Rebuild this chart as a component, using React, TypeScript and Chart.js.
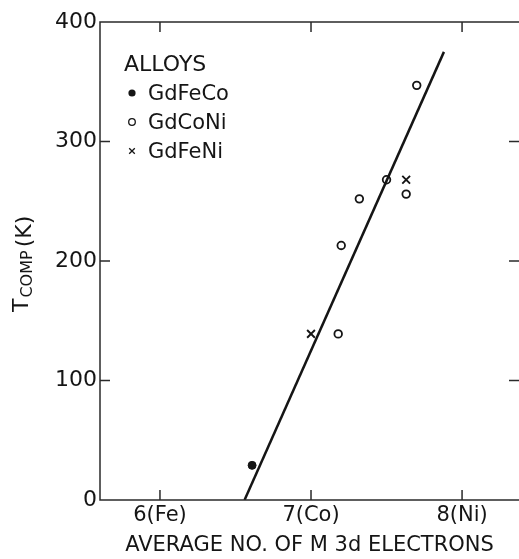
import React, { useEffect, useRef } from "react";
import { Chart, registerables } from "chart.js";

Chart.register(...registerables);

// ---- data ----
const gdFeCoX = [6.61];
const gdFeCoY = [29];
const gdCoNiX = [7.18, 7.2, 7.32, 7.5, 7.63, 7.7];
const gdCoNiY = [139, 213, 252, 268, 256, 347];
const gdFeNiX = [7.0, 7.63];
const gdFeNiY = [139, 268];
const fitX = [6.56, 7.88];
const fitY = [0, 375];
const seriesLabels = ["GdFeCo", "GdCoNi", "GdFeNi"];
const legendTitle = "ALLOYS";
const xTickValues = [6, 7, 8];
const xTickLabels = ["6(Fe)", "7(Co)", "8(Ni)"];
const yTickValues = [0, 100, 200, 300, 400];
const xMin = 5.603;
const xMax = 8.377;
const yMin = 0;
const yMax = 400;
const xTitle = "AVERAGE NO. OF M 3d ELECTRONS";
const yTitleMain = "T";
const yTitleSub = "COMP";
const yTitleUnit = "(K)";

const FONT = "'DejaVu Sans', sans-serif";
const INK = "#151515";

const pts = (xs: number[], ys: number[]) => xs.map((x, i) => ({ x, y: ys[i] }));

const framePlugin = {
  id: "frame",
  afterDatasetsDraw(chart: any) {
    const { ctx, chartArea } = chart;
    const { left, right, top, bottom } = chartArea;
    const xs = chart.scales.x;
    const ys = chart.scales.y;
    ctx.save();
    ctx.strokeStyle = "#2a2a2a";
    ctx.lineWidth = 1.5;
    ctx.beginPath();
    ctx.moveTo(right, top);
    ctx.lineTo(left, top);
    ctx.lineTo(left, bottom);
    ctx.lineTo(right, bottom);
    ctx.stroke();
    const tl = 10;
    ctx.beginPath();
    xTickValues.forEach((v) => {
      const px = xs.getPixelForValue(v);
      ctx.moveTo(px, bottom);
      ctx.lineTo(px, bottom - tl);
      ctx.moveTo(px, top);
      ctx.lineTo(px, top + tl);
    });
    yTickValues.forEach((v) => {
      if (v === yMin || v === yMax) return;
      const py = ys.getPixelForValue(v);
      ctx.moveTo(left, py);
      ctx.lineTo(left + tl, py);
      ctx.moveTo(right, py);
      ctx.lineTo(right - tl, py);
    });
    ctx.stroke();
    ctx.restore();
  },
};

const legendPlugin = {
  id: "alloyLegend",
  afterDraw(chart: any) {
    const { ctx, chartArea } = chart;
    const x0 = chartArea.left + 24;
    ctx.save();
    ctx.fillStyle = INK;
    ctx.strokeStyle = INK;
    ctx.textAlign = "left";
    ctx.textBaseline = "alphabetic";
    ctx.font = `22px ${FONT}`;
    ctx.fillText(legendTitle, x0, 71);
    ctx.font = `21px ${FONT}`;
    const rows = [100, 129, 158];
    chart.data.datasets.slice(0, 3).forEach((ds: any, i: number) => {
      const by = rows[i];
      const mx = x0 + 8;
      const my = by - 7;
      ctx.lineWidth = 1.3;
      if (i === 0) {
        ctx.beginPath();
        ctx.arc(mx, my, 3.6, 0, Math.PI * 2);
        ctx.fill();
      } else if (i === 1) {
        ctx.beginPath();
        ctx.arc(mx, my, 3.3, 0, Math.PI * 2);
        ctx.stroke();
      } else {
        const r = 2.8;
        ctx.beginPath();
        ctx.moveTo(mx - r, my - r);
        ctx.lineTo(mx + r, my + r);
        ctx.moveTo(mx + r, my - r);
        ctx.lineTo(mx - r, my + r);
        ctx.stroke();
      }
      ctx.fillText(ds.label, x0 + 24, by);
    });
    ctx.restore();
  },
};

const yTitlePlugin = {
  id: "yTitle",
  afterDraw(chart: any) {
    const { ctx } = chart;
    ctx.save();
    ctx.fillStyle = INK;
    ctx.translate(28, 312);
    ctx.rotate(-Math.PI / 2);
    ctx.textAlign = "left";
    ctx.textBaseline = "alphabetic";
    ctx.font = `22px ${FONT}`;
    ctx.fillText(yTitleMain, 0, 0);
    const wT = ctx.measureText(yTitleMain).width;
    ctx.font = `16px ${FONT}`;
    ctx.fillText(yTitleSub, wT + 1, 4);
    const wS = ctx.measureText(yTitleSub).width;
    ctx.font = `22px ${FONT}`;
    ctx.fillText(yTitleUnit, wT + 1 + wS + 3, 3);
    ctx.restore();
  },
};

export default function App() {
  const ref = useRef<HTMLCanvasElement | null>(null);
  useEffect(() => {
    if (!ref.current) return;
    Chart.defaults.font.family = FONT;
    const chart = new Chart(ref.current, {
      type: "scatter",
      data: {
        datasets: [
          {
            label: seriesLabels[0],
            data: pts(gdFeCoX, gdFeCoY),
            pointStyle: "circle",
            pointRadius: 4,
            backgroundColor: INK,
            borderColor: INK,
            borderWidth: 1,
          },
          {
            label: seriesLabels[1],
            data: pts(gdCoNiX, gdCoNiY),
            pointStyle: "circle",
            pointRadius: 3.8,
            backgroundColor: "rgba(255,255,255,0)",
            borderColor: INK,
            borderWidth: 1.8,
          },
          {
            label: seriesLabels[2],
            data: pts(gdFeNiX, gdFeNiY),
            pointStyle: "crossRot",
            pointRadius: 5.5,
            backgroundColor: INK,
            borderColor: INK,
            borderWidth: 1.9,
          },
          {
            label: "fit",
            data: pts(fitX, fitY),
            showLine: true,
            pointRadius: 0,
            borderColor: INK,
            borderWidth: 2.5,
            backgroundColor: INK,
          },
        ],
      },
      options: {
        animation: false,
        responsive: true,
        maintainAspectRatio: false,
        layout: { autoPadding: false, padding: { top: 22, left: 0, right: 0, bottom: 0 } },
        plugins: {
          legend: { display: false },
          tooltip: { enabled: false },
        },
        scales: {
          x: {
            type: "linear",
            min: xMin,
            max: xMax,
            grid: { display: false, drawTicks: false },
            border: { display: false },
            afterBuildTicks: (scale: any) => {
              scale.ticks = xTickValues.map((v) => ({ value: v }));
            },
            afterFit: (scale: any) => {
              scale.height = 59;
              scale.paddingLeft = 0;
              scale.paddingRight = 0;
            },
            ticks: {
              padding: 3,
              color: INK,
              font: { size: 21, family: FONT },
              maxRotation: 0,
              autoSkip: false,
              callback: (value: any) => {
                const i = xTickValues.indexOf(Number(value));
                return i >= 0 ? xTickLabels[i] : "";
              },
            },
            title: {
              display: true,
              text: xTitle,
              color: INK,
              font: { size: 21, family: FONT },
              padding: { top: 0, bottom: 1 },
            },
          },
          y: {
            type: "linear",
            min: yMin,
            max: yMax,
            grid: { display: false, drawTicks: false },
            border: { display: false },
            afterBuildTicks: (scale: any) => {
              scale.ticks = yTickValues.map((v) => ({ value: v }));
            },
            afterFit: (scale: any) => {
              scale.width = 100;
              scale.paddingTop = 0;
              scale.paddingBottom = 0;
            },
            ticks: {
              padding: 3,
              color: INK,
              font: { size: 22, family: FONT },
              callback: (value: any) => String(value),
            },
          },
        },
      },
      plugins: [framePlugin, legendPlugin, yTitlePlugin],
    });
    return () => chart.destroy();
  }, []);
  return (
    <div
      style={{
        position: "fixed",
        left: 0,
        top: 0,
        width: 519,
        height: 559,
        background: "#fff",
      }}
    >
      <canvas ref={ref} />
    </div>
  );
}
